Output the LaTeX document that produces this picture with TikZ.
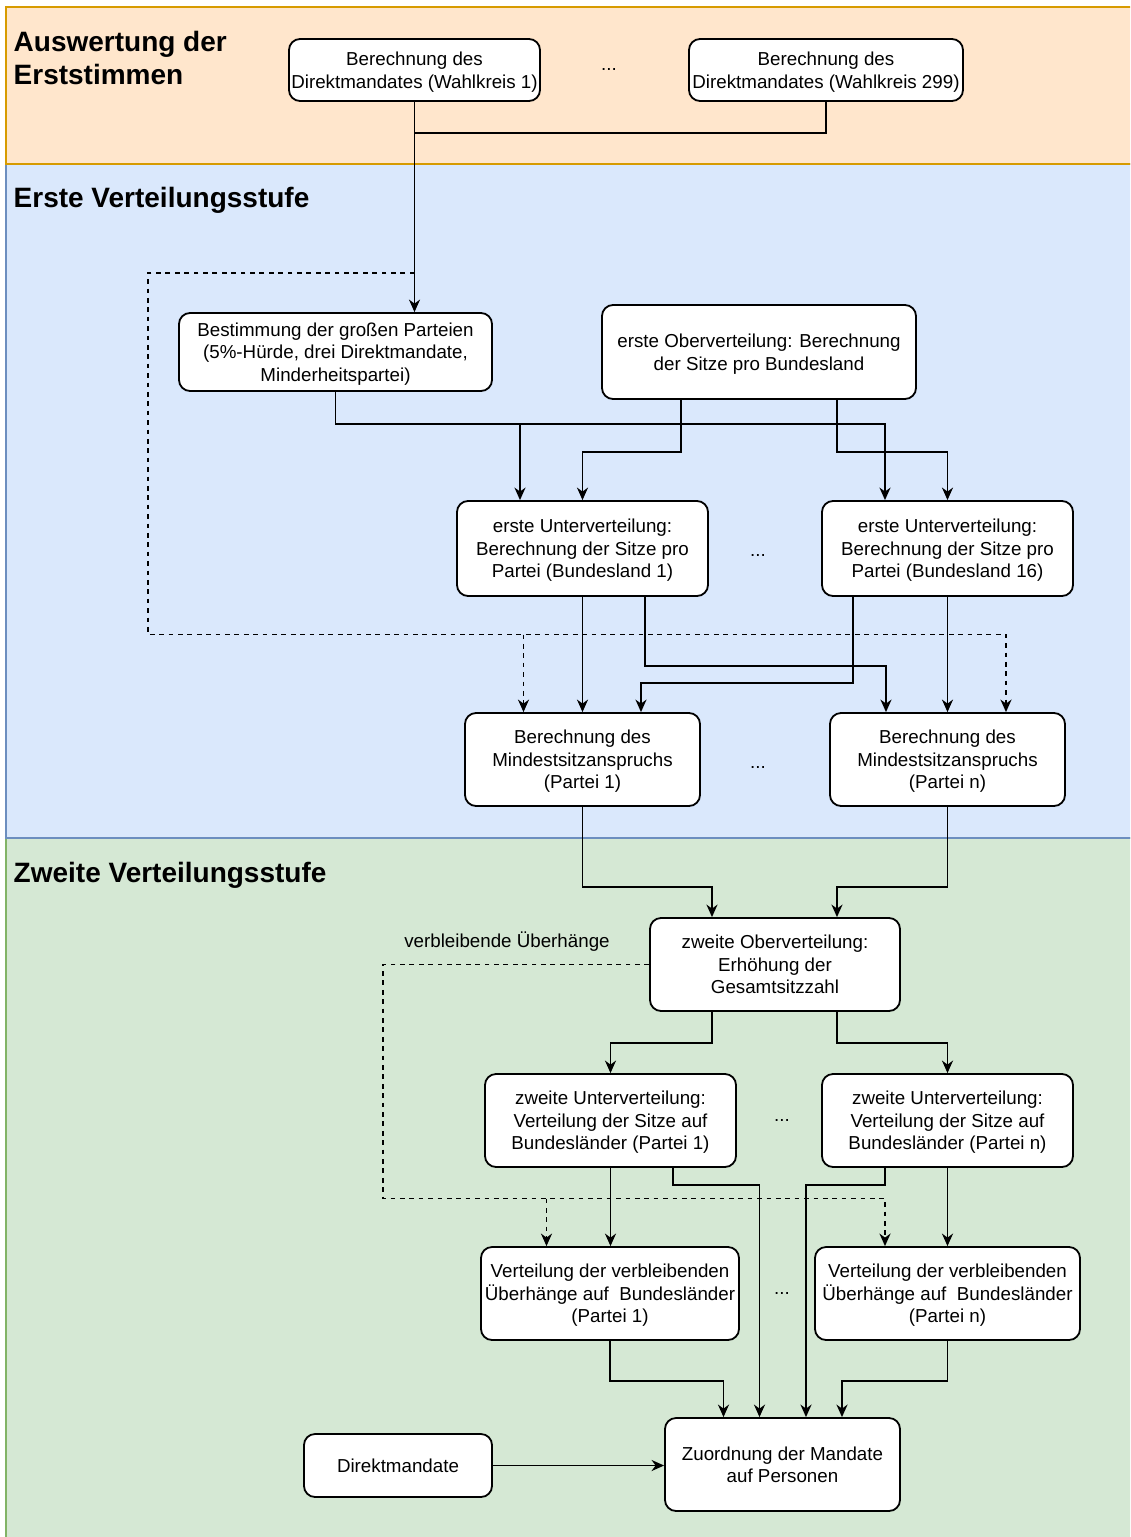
\documentclass[tikz,border=0pt]{standalone}
\usepackage{fontspec}
\setmainfont{Liberation Sans}
\usetikzlibrary{arrows.meta,calc}
\definecolor{bandOrFill}{HTML}{FFE6CC}
\definecolor{bandOrLine}{HTML}{D79B00}
\definecolor{bandBlFill}{HTML}{DAE8FC}
\definecolor{bandBlLine}{HTML}{6C8EBF}
\definecolor{bandGrFill}{HTML}{D5E8D4}
\definecolor{bandGrLine}{HTML}{82B366}
\newcommand\dgboxfont{\fontsize{18.75pt}{22.5pt}\selectfont}
\newcommand\dgtitlefont{\fontsize{28pt}{33pt}\selectfont\bfseries}
% line strut: keeps every text line at the same height and depth
\newcommand\dgs{\rule[-4.5pt]{0pt}{22.5pt}}
\begin{document}
\begin{tikzpicture}[x=1pt,y=-1pt,
  box/.style={draw=black, fill=white, rounded corners=11pt, line width=1.8pt,
              align=center, inner sep=0pt, font=\dgboxfont},
  band/.style={line width=1.5pt},
  title/.style={font=\dgtitlefont, align=left, inner sep=0pt},
  wire/.style={line width=1.9pt},
  conn/.style={line width=1.9pt, -{Stealth[length=12.5pt,width=11pt,inset=4pt]}},
  dconn/.style={conn, dash pattern=on 4.7pt off 4.7pt},
  dots/.style={font=\dgboxfont, inner sep=0pt, anchor=base},
  lbl/.style={font=\dgboxfont, inner sep=0pt}]

\useasboundingbox (0,0) rectangle (1130,1537);
\clip (0,0) rectangle (1130,1537);
\fill[white] (0,0) rectangle (1130,1537);

% stage bands
\draw[band, fill=bandGrFill, draw=bandGrLine] (6,838) rectangle (1140,1550);
\draw[band, fill=bandBlFill, draw=bandBlLine] (6,164) rectangle (1140,838);
\draw[band, fill=bandOrFill, draw=bandOrLine] (6,7) rectangle (1140,164);

\node[title, anchor=north west] (t1) at (13.5,31.5) {Auswertung der\\Erststimmen};
\node[title, anchor=base west] (t2) at (13.5,207) {Erste Verteilungsstufe};
\node[title, anchor=base west] (t3) at (13.5,882) {Zweite Verteilungsstufe};

% boxes
\node[box, minimum width=251pt, minimum height=62pt] (w1) at (414.5,70) {\dgs Berechnung des\\\dgs Direktmandates (Wahlkreis 1)};
\node[box, minimum width=274pt, minimum height=62pt] (w299) at (826,70) {\dgs Berechnung des\\\dgs Direktmandates (Wahlkreis 299)};
\node[dots] (dA) at (609,70.5) {...};

\node[box, minimum width=313pt, minimum height=78pt] (best) at (335.5,352) {\dgs Bestimmung der großen Parteien\\\dgs (5\%-Hürde, drei Direktmandate,\\\dgs Minderheitspartei)};
\node[box, minimum width=314pt, minimum height=94pt] (ov1) at (759,352) {\dgs erste Oberverteilung: Berechnung\\\dgs der Sitze pro Bundesland};

\node[box, minimum width=251pt, minimum height=95pt] (uv1) at (582.5,548.5) {\dgs erste Unterverteilung:\\\dgs Berechnung der Sitze pro\\\dgs Partei (Bundesland 1)};
\node[box, minimum width=251pt, minimum height=95pt] (uv16) at (947.5,548.5) {\dgs erste Unterverteilung:\\\dgs Berechnung der Sitze pro\\\dgs Partei (Bundesland 16)};
\node[dots] (dB) at (758,556.5) {...};

\node[box, minimum width=235pt, minimum height=93pt] (m1) at (582.5,759.5) {\dgs Berechnung des\\\dgs Mindestsitzanspruchs\\\dgs (Partei 1)};
\node[box, minimum width=235pt, minimum height=93pt] (mn) at (947.5,759.5) {\dgs Berechnung des\\\dgs Mindestsitzanspruchs\\\dgs (Partei n)};
\node[dots] (dC) at (758,768.5) {...};

\node[box, minimum width=250pt, minimum height=93pt] (ov2) at (775,964.5) {\dgs zweite Oberverteilung:\\\dgs Erhöhung der\\\dgs Gesamtsitzzahl};
\node[lbl] (rest) at (507,942) {verbleibende Überhänge};

\node[box, minimum width=251pt, minimum height=93pt] (zu1) at (610.5,1120.5) {\dgs zweite Unterverteilung:\\\dgs Verteilung der Sitze auf\\\dgs Bundesländer (Partei 1)};
\node[box, minimum width=251pt, minimum height=93pt] (zun) at (947.5,1120.5) {\dgs zweite Unterverteilung:\\\dgs Verteilung der Sitze auf\\\dgs Bundesländer (Partei n)};
\node[dots] (dD) at (782,1121.5) {...};

\node[box, minimum width=258pt, minimum height=93pt] (v1) at (610,1293.5) {\dgs Verteilung der verbleibenden\\\dgs Überhänge auf~ Bundesländer\\\dgs (Partei 1)};
\node[box, minimum width=265pt, minimum height=93pt] (vn) at (947.5,1293.5) {\dgs Verteilung der verbleibenden\\\dgs Überhänge auf~ Bundesländer\\\dgs (Partei n)};
\node[dots] (dE) at (782,1294.5) {...};

\node[box, minimum width=235pt, minimum height=93pt] (zo) at (782.5,1464.5) {\dgs Zuordnung der Mandate\\\dgs auf Personen};
\node[box, minimum width=188pt, minimum height=63pt] (dm) at (398,1465.5) {\dgs Direktmandate};

% helper points
\coordinate (j1) at (414.5,133);
\coordinate (d1) at (414.5,273);
\coordinate (d2) at (148,634.5);
\coordinate (d3) at (383,1198.5);
\coordinate (hb) at ($(best.south)+(0,32)$);
\coordinate (u1a) at ([xshift=-62.5pt]uv1.north);
\coordinate (m1d) at ([xshift=-59pt]m1.north);
\coordinate (v1d) at ([xshift=-63.5pt]v1.north);

% first votes
\draw[wire] (w299.south) |- (j1);
\draw[conn] (w1.south) -- (w1.south |- best.north);

% dashed feed to minimum seat claims
\draw[dconn] (d1) -| (d2) -| ([xshift=58.5pt]mn.north);
\draw[dconn] (m1d |- d2) -- (m1d);

% first distribution stage
\draw[conn] (best.south) -- (hb) -| ([xshift=-62.5pt]uv16.north);
\draw[conn] (u1a |- hb) -- (u1a);
\draw[conn] ([xshift=-78pt]ov1.south) -- ++(0,52) -| (uv1.north);
\draw[conn] ([xshift=78pt]ov1.south) -- ++(0,52) -| (uv16.north);

\draw[conn] (uv1.south) -- (m1.north);
\draw[conn] ([xshift=62.5pt]uv1.south) -- ++(0,69) -| ([xshift=-61.5pt]mn.north);
\draw[conn] ([xshift=-94.5pt]uv16.south) -- ++(0,86) -| ([xshift=58.5pt]m1.north);
\draw[conn] (uv16.south) -- (mn.north);

% second distribution stage
\draw[conn] (m1.south) -- ++(0,80) -| ([xshift=-63pt]ov2.north);
\draw[conn] (mn.south) -- ++(0,80) -| ([xshift=62pt]ov2.north);

\draw[dconn] (ov2.west) -| (d3) -| ([xshift=-62.5pt]vn.north);
\draw[dconn] (v1d |- d3) -- (v1d);

\draw[conn] ([xshift=-63pt]ov2.south) -- ++(0,31) -| (zu1.north);
\draw[conn] ([xshift=62pt]ov2.south) -- ++(0,31) -| (zun.north);

\draw[conn] (zu1.south) -- (zu1.south |- v1.north);
\draw[conn] ([xshift=62.5pt]zu1.south) -- ++(0,17) -| ([xshift=-23pt]zo.north);
\draw[conn] (zun.south) -- (vn.north);
\draw[conn] ([xshift=-62.5pt]zun.south) -- ++(0,17) -| ([xshift=23.5pt]zo.north);

\draw[conn] (v1.south) -- ++(0,40) -| ([xshift=-59pt]zo.north);
\draw[conn] (vn.south) -- ++(0,40) -| ([xshift=59.5pt]zo.north);

\draw[conn] (dm.east) -- (dm.east -| zo.west);
\end{tikzpicture}
\end{document}
